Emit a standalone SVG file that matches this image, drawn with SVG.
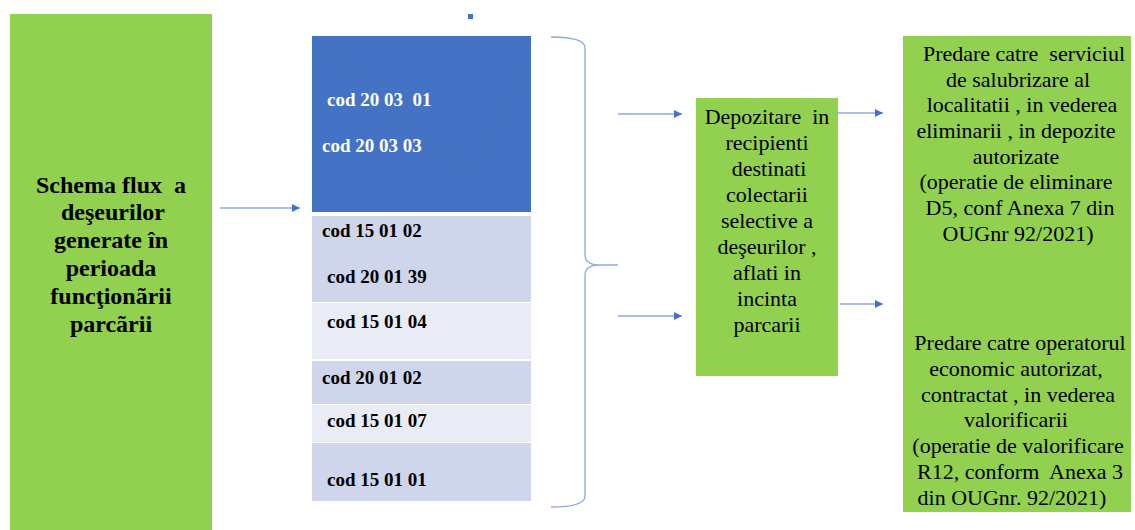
<svg xmlns="http://www.w3.org/2000/svg" width="1135" height="530" viewBox="0 0 1135 530">
<defs>
<style>
.green{fill:#92D050}
.blue{fill:#4472C4}
.rowd{fill:#CFD5EA}
.rowl{fill:#E9EBF5}
.code{font-family:"Liberation Serif","Times New Roman",serif;font-size:19px;font-weight:bold;fill:#000}
.wcode{font-family:"Liberation Serif","Times New Roman",serif;font-size:19px;font-weight:bold;fill:#fff}
.lbl{font-family:"Liberation Serif","Times New Roman",serif;font-size:24px;font-weight:bold;fill:#000;text-anchor:middle}
.txt{font-family:"Liberation Serif","Times New Roman",serif;font-size:22px;fill:#000;text-anchor:middle}
.conn{stroke:#8FAADC;stroke-width:1.3;fill:none}
</style>
<marker id="ah" viewBox="0 0 10 10" refX="10" refY="5" markerWidth="8" markerHeight="8" markerUnits="userSpaceOnUse" orient="auto">
<path d="M0,0 L10,5 L0,10 z" fill="#4472C4"/>
</marker>
</defs>
<rect width="1135" height="530" fill="#fff"/>

<g id="source">
<rect class="green" x="10" y="14" width="202" height="516"/>
<text class="lbl" x="111" y="193" xml:space="preserve">Schema flux  a</text>
<text class="lbl" x="113" y="220">deşeurilor</text>
<text class="lbl" x="111" y="248">generate în</text>
<text class="lbl" x="111" y="276">perioada</text>
<text class="lbl" x="111" y="304">funcţionãrii</text>
<text class="lbl" x="111" y="332">parcãrii</text>
</g>

<g id="codes">
<rect x="468" y="14" width="5" height="5" class="blue"/>
<rect class="blue" x="312" y="36" width="219" height="176"/>
<path d="M320,47 L470,175 L522,76" fill="none" stroke="#3A62AE" stroke-width="1" stroke-dasharray="1 3" opacity="0.5"/>
<rect class="rowd" x="312" y="216" width="219" height="86"/>
<rect class="rowl" x="312" y="303" width="219" height="56"/>
<rect class="rowd" x="312" y="361" width="219" height="43"/>
<rect class="rowl" x="312" y="405" width="219" height="37"/>
<rect class="rowd" x="312" y="443" width="219" height="58"/>
<text class="wcode" x="327" y="106" xml:space="preserve">cod 20 03  01</text>
<text class="wcode" x="322" y="152">cod 20 03 03</text>
<text class="code" x="322" y="237">cod 15 01 02</text>
<text class="code" x="327" y="283">cod 20 01 39</text>
<text class="code" x="327" y="328">cod 15 01 04</text>
<text class="code" x="322" y="384">cod 20 01 02</text>
<text class="code" x="327" y="427">cod 15 01 07</text>
<text class="code" x="327" y="486">cod 15 01 01</text>
</g>

<g id="storage">
<rect class="green" x="696" y="98" width="142" height="278"/>
<text class="txt" x="767" y="124" xml:space="preserve">Depozitare  in</text>
<text class="txt" x="767" y="150">recipienti</text>
<text class="txt" x="769" y="176">destinati</text>
<text class="txt" x="767" y="202">colectarii</text>
<text class="txt" x="767" y="228">selective a</text>
<text class="txt" x="767" y="254">deşeurilor ,</text>
<text class="txt" x="767" y="280">aflati in</text>
<text class="txt" x="767" y="306">incinta</text>
<text class="txt" x="767" y="332">parcarii</text>
</g>

<g id="handover">
<rect class="green" x="903" y="36" width="228" height="476"/>
<text class="txt" x="1024" y="61" xml:space="preserve">Predare catre  serviciul</text>
<text class="txt" x="1018" y="87">de salubrizare al</text>
<text class="txt" x="1022" y="112">localitatii , in vederea</text>
<text class="txt" x="1016" y="138">eliminarii , in depozite</text>
<text class="txt" x="1016" y="164">autorizate</text>
<text class="txt" x="1016" y="189">(operatie de eliminare</text>
<text class="txt" x="1020" y="215">D5, conf Anexa 7 din</text>
<text class="txt" x="1018" y="241">OUGnr 92/2021)</text>
<text class="txt" x="1020" y="350">Predare catre operatorul</text>
<text class="txt" x="1016" y="376">economic autorizat,</text>
<text class="txt" x="1018" y="402">contractat , in vederea</text>
<text class="txt" x="1016" y="427">valorificarii</text>
<text class="txt" x="1018" y="453">(operatie de valorificare</text>
<text class="txt" x="1020" y="479" xml:space="preserve">R12, conform  Anexa 3</text>
<text class="txt" x="1012" y="505">din OUGnr. 92/2021)</text>
</g>

<g id="connectors">
<path class="conn" d="M551,37 Q585,37 585,48 L585,255 Q585,265 600,265 L618,265 M600,265 Q585,265 585,275 L585,496 Q585,507 551,507"/>
<line class="conn" x1="220" y1="208" x2="300" y2="208" marker-end="url(#ah)"/>
<line class="conn" x1="618" y1="114" x2="682" y2="114" marker-end="url(#ah)"/>
<line class="conn" x1="618" y1="316" x2="682" y2="316" marker-end="url(#ah)"/>
<line class="conn" x1="836" y1="113" x2="883" y2="113" marker-end="url(#ah)"/>
<line class="conn" x1="840" y1="304" x2="883" y2="304" marker-end="url(#ah)"/>
</g>
</svg>
